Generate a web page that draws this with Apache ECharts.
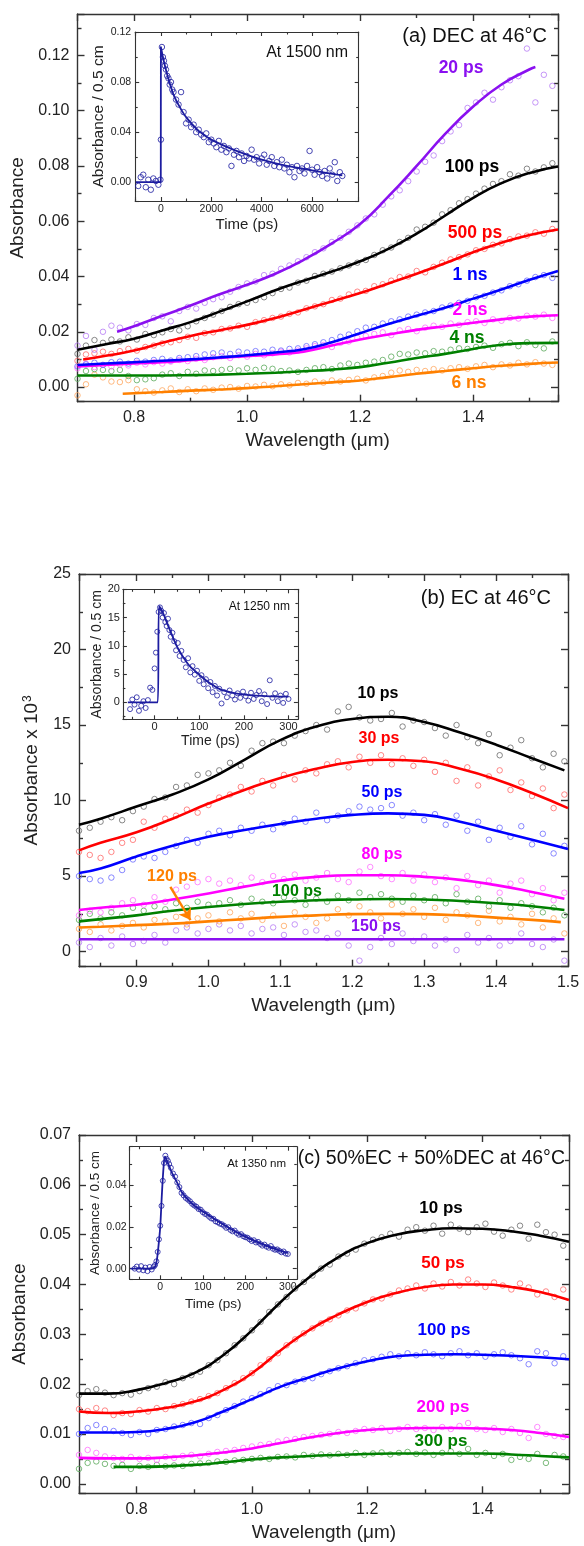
<!DOCTYPE html>
<html>
<head>
<meta charset="utf-8">
<title>Transient absorption spectra</title>
<script src="https://cdn.jsdelivr.net/npm/echarts@6/dist/echarts.min.js"></script>
<style>
  html, body { margin: 0; padding: 0; background: #fff; }
  #main { width: 584px; height: 1546px; }
</style>
</head>
<body>
<div id="main"></div>
<script>
// ---------- data ----------
// wavelength grids (um) for the measured points
var wlA = [0.700,0.715,0.730,0.745,0.760,0.775,0.790,0.805,0.820,0.835,
  0.850,0.865,0.880,0.895,0.910,0.925,0.940,0.955,0.970,0.985,
  1.000,1.015,1.030,1.045,1.060,1.075,1.090,1.105,1.120,1.135,
  1.150,1.165,1.180,1.195,1.210,1.225,1.240,1.255,1.270,1.285,
  1.300,1.315,1.330,1.345,1.360,1.375,1.390,1.405,1.420,1.435,
  1.450,1.465,1.480,1.495,1.510,1.525,1.540];
var wlB = [0.820,0.835,0.850,0.865,0.880,0.895,0.910,0.925,0.940,0.955,
  0.970,0.985,1.000,1.015,1.030,1.045,1.060,1.075,1.090,1.105,
  1.120,1.135,1.150,1.165,1.180,1.195,1.210,1.225,1.240,1.255,
  1.270,1.285,1.300,1.315,1.330,1.345,1.360,1.375,1.390,1.405,
  1.420,1.435,1.450,1.465,1.480,1.495];

// (a) DEC at 46C - measured absorbance
var a20ps = [0.0150,0.0185,0.0135,0.0200,0.0222,0.0215,0.0205,0.0228,0.0225,0.0250,
  0.0256,0.0238,0.0275,0.0290,0.0284,0.0305,0.0318,0.0325,0.0345,0.0362,
  0.0375,0.0382,0.0405,0.0410,0.0428,0.0440,0.0455,0.0470,0.0488,0.0502,
  0.0525,0.0540,0.0562,0.0585,0.0610,0.0625,0.0660,0.0690,0.0712,0.0745,
  0.0780,0.0815,0.0838,0.0890,0.0925,0.0948,0.1010,0.1030,0.1065,0.1040,
  0.1085,0.1110,0.1125,0.1225,0.1030,0.1130,0.1090];
var a100ps = [0.0120,0.0150,0.0170,0.0160,0.0172,0.0165,0.0180,0.0172,0.0192,0.0188,
  0.0198,0.0210,0.0205,0.0220,0.0238,0.0250,0.0262,0.0275,0.0290,0.0300,
  0.0305,0.0315,0.0325,0.0340,0.0355,0.0360,0.0378,0.0385,0.0402,0.0410,
  0.0418,0.0430,0.0440,0.0450,0.0460,0.0478,0.0495,0.0505,0.0525,0.0540,
  0.0570,0.0580,0.0595,0.0625,0.0640,0.0665,0.0680,0.0700,0.0718,0.0735,
  0.0745,0.0770,0.0765,0.0790,0.0780,0.0795,0.0810];
var a500ps = [0.0095,0.0118,0.0122,0.0128,0.0120,0.0130,0.0138,0.0132,0.0145,0.0150,
  0.0158,0.0162,0.0170,0.0182,0.0178,0.0195,0.0198,0.0210,0.0212,0.0222,
  0.0218,0.0235,0.0242,0.0250,0.0255,0.0265,0.0270,0.0285,0.0292,0.0300,
  0.0315,0.0320,0.0335,0.0345,0.0348,0.0365,0.0372,0.0385,0.0398,0.0400,
  0.0420,0.0415,0.0435,0.0450,0.0462,0.0470,0.0480,0.0495,0.0500,0.0515,
  0.0520,0.0535,0.0545,0.0548,0.0560,0.0555,0.0572];
var a1ns = [0.0075,0.0082,0.0088,0.0080,0.0090,0.0092,0.0085,0.0095,0.0092,0.0098,
  0.0102,0.0096,0.0105,0.0108,0.0112,0.0118,0.0122,0.0125,0.0120,0.0128,
  0.0125,0.0130,0.0128,0.0135,0.0132,0.0138,0.0140,0.0148,0.0155,0.0162,
  0.0170,0.0182,0.0190,0.0202,0.0215,0.0218,0.0230,0.0238,0.0245,0.0255,
  0.0262,0.0270,0.0275,0.0288,0.0295,0.0305,0.0312,0.0325,0.0330,0.0342,
  0.0350,0.0365,0.0372,0.0385,0.0398,0.0405,0.0395];
var a2ns = [0.0068,0.0085,0.0072,0.0080,0.0075,0.0082,0.0078,0.0088,0.0082,0.0090,
  0.0085,0.0092,0.0098,0.0094,0.0102,0.0098,0.0108,0.0112,0.0105,0.0115,
  0.0110,0.0120,0.0115,0.0122,0.0128,0.0125,0.0132,0.0140,0.0148,0.0152,
  0.0145,0.0160,0.0165,0.0178,0.0185,0.0192,0.0198,0.0188,0.0205,0.0210,
  0.0202,0.0215,0.0222,0.0218,0.0230,0.0225,0.0235,0.0238,0.0232,0.0245,
  0.0240,0.0250,0.0248,0.0258,0.0255,0.0262,0.0250];
var a4ns = [0.0030,0.0058,0.0065,0.0062,0.0058,0.0062,0.0040,0.0025,0.0028,0.0032,
  0.0045,0.0050,0.0040,0.0055,0.0048,0.0060,0.0058,0.0062,0.0066,0.0060,
  0.0068,0.0062,0.0070,0.0066,0.0058,0.0060,0.0055,0.0062,0.0068,0.0072,
  0.0065,0.0078,0.0085,0.0080,0.0088,0.0092,0.0098,0.0110,0.0120,0.0118,
  0.0125,0.0122,0.0130,0.0128,0.0135,0.0140,0.0138,0.0145,0.0150,0.0142,
  0.0155,0.0160,0.0148,0.0162,0.0152,0.0140,0.0165];
var a6ns = [-0.0030,0.0010,0.0045,0.0035,0.0020,0.0018,0.0025,-0.0008,-0.0015,-0.0020,
  -0.0012,-0.0005,-0.0018,-0.0008,-0.0015,-0.0005,-0.0010,-0.0002,0.0000,-0.0006,
  0.0004,0.0002,0.0008,0.0003,0.0010,0.0006,0.0015,0.0012,0.0020,0.0016,
  0.0024,0.0020,0.0026,0.0030,0.0024,0.0035,0.0040,0.0052,0.0060,0.0055,
  0.0062,0.0058,0.0065,0.0060,0.0068,0.0072,0.0066,0.0075,0.0080,0.0072,
  0.0082,0.0078,0.0088,0.0082,0.0090,0.0085,0.0080];

// (a) fitted curves [wavelength, absorbance]
var fitA20ps = [[0.77,0.0200],[0.80,0.0220],[0.85,0.0258],[0.90,0.0295],[0.95,0.0335],[1.00,0.0370],[1.05,0.0410],[1.10,0.0460],[1.15,0.0520],[1.20,0.0590],[1.25,0.0690],[1.30,0.0800],[1.35,0.0915],[1.40,0.1015],[1.45,0.1095],[1.50,0.1150],[1.51,0.1158]];
var fitA100ps = [[0.70,0.0135],[0.75,0.0155],[0.80,0.0175],[0.85,0.0205],[0.90,0.0235],[0.95,0.0272],[1.00,0.0310],[1.05,0.0350],[1.10,0.0385],[1.15,0.0418],[1.20,0.0455],[1.25,0.0500],[1.30,0.0555],[1.35,0.0620],[1.40,0.0685],[1.45,0.0738],[1.50,0.0775],[1.55,0.0798]];
var fitA500ps = [[0.71,0.0100],[0.75,0.0113],[0.80,0.0132],[0.85,0.0160],[0.90,0.0185],[0.95,0.0205],[1.00,0.0225],[1.05,0.0250],[1.10,0.0280],[1.15,0.0310],[1.20,0.0340],[1.25,0.0375],[1.30,0.0410],[1.35,0.0448],[1.40,0.0488],[1.45,0.0522],[1.50,0.0550],[1.55,0.0570]];
var fitA1ns = [[0.70,0.0080],[0.75,0.0085],[0.80,0.0090],[0.85,0.0095],[0.90,0.0100],[0.95,0.0107],[1.00,0.0115],[1.05,0.0125],[1.10,0.0137],[1.15,0.0162],[1.20,0.0195],[1.25,0.0228],[1.30,0.0258],[1.35,0.0287],[1.40,0.0320],[1.45,0.0353],[1.50,0.0388],[1.55,0.0420]];
var fitA2ns = [[0.70,0.0075],[0.75,0.0080],[0.80,0.0085],[0.85,0.0090],[0.90,0.0097],[0.95,0.0105],[1.00,0.0112],[1.05,0.0118],[1.10,0.0128],[1.15,0.0150],[1.20,0.0172],[1.25,0.0190],[1.30,0.0207],[1.35,0.0220],[1.40,0.0233],[1.45,0.0245],[1.50,0.0255],[1.55,0.0260]];
var fitA4ns = [[0.70,0.0042],[0.75,0.0042],[0.80,0.0042],[0.85,0.0042],[0.90,0.0043],[0.95,0.0045],[1.00,0.0048],[1.05,0.0052],[1.10,0.0057],[1.15,0.0063],[1.20,0.0072],[1.25,0.0088],[1.30,0.0105],[1.35,0.0120],[1.40,0.0138],[1.45,0.0153],[1.50,0.0159],[1.55,0.0160]];
var fitA6ns = [[0.78,-0.0024],[0.85,-0.0018],[0.90,-0.0013],[0.95,-0.0009],[1.00,-0.0004],[1.05,0.0003],[1.10,0.0010],[1.15,0.0017],[1.20,0.0024],[1.25,0.0036],[1.30,0.0048],[1.35,0.0058],[1.40,0.0068],[1.45,0.0077],[1.50,0.0084],[1.55,0.0089]];

// (b) EC at 46C - absorbance x 10^3
var b10ps = [8.0,8.2,8.6,8.9,8.7,9.3,9.6,10.1,10.2,10.9,
  11.0,11.7,11.8,12.0,12.5,12.3,13.3,13.8,13.9,13.8,
  14.3,14.6,15.0,14.7,15.9,16.2,15.5,15.3,15.4,15.8,
  14.9,15.3,15.2,14.8,14.3,15.0,14.2,13.8,14.4,13.0,
  13.5,14.0,12.8,12.2,13.1,12.6];
var b30ps = [6.6,6.4,6.2,6.6,7.2,7.4,8.6,8.2,8.8,9.0,
  9.4,9.2,9.7,10.2,10.4,10.9,10.6,11.3,11.0,11.7,
  11.4,12.0,11.8,12.4,12.6,12.2,12.9,12.5,13.0,12.4,
  12.8,12.3,12.7,11.9,12.5,11.3,12.2,11.0,11.6,12.0,
  10.7,11.2,10.3,10.8,9.5,10.4];
var b50ps = [5.0,4.8,4.7,4.9,5.4,6.1,6.3,6.2,6.6,7.0,
  7.4,7.2,7.8,8.0,7.7,8.2,8.0,8.4,8.1,8.5,
  8.8,8.6,9.2,8.7,9.0,9.3,9.6,9.4,9.5,9.7,
  9.0,9.2,8.7,9.1,8.4,9.0,8.0,8.6,7.4,8.2,
  7.6,8.3,7.1,7.8,6.5,7.0];
var b80ps = [2.4,2.7,2.6,2.9,3.2,3.4,3.1,3.6,3.3,4.1,
  4.3,4.6,4.8,4.5,4.7,4.4,4.9,4.6,5.0,4.8,
  5.1,4.7,4.9,5.2,4.8,4.6,5.3,5.6,5.0,4.8,
  5.2,4.7,5.1,4.6,4.9,4.2,5.0,4.4,4.7,3.9,
  4.5,4.7,3.8,4.2,3.4,3.9];
var b100ps = [2.1,2.5,2.2,2.6,2.4,2.9,2.7,3.0,2.8,3.2,
  2.9,3.3,3.1,3.2,3.4,3.1,3.5,3.3,3.2,3.6,
  3.4,3.1,3.5,3.3,3.7,3.4,3.9,3.6,3.8,3.5,
  3.3,3.7,3.4,3.6,3.2,3.8,3.3,3.5,3.0,3.4,
  2.9,3.2,3.0,2.6,2.9,2.4];
var b120ps = [1.5,1.3,1.8,1.4,1.7,1.9,1.6,2.1,2.0,2.3,
  1.8,2.2,2.4,2.0,2.6,2.2,2.5,2.1,2.4,1.7,
  2.6,2.3,1.9,2.2,2.8,2.4,3.0,2.6,2.2,3.1,
  2.5,2.8,2.3,2.9,2.1,2.6,2.4,1.9,2.7,2.0,
  2.3,1.8,2.5,1.6,2.2,1.2];
var b150ps = [0.6,0.3,0.9,0.4,1.0,0.5,0.7,1.1,0.6,1.4,
  1.6,1.2,1.5,1.8,1.4,1.7,1.2,1.5,1.6,1.1,
  1.8,1.3,1.4,0.9,1.2,0.4,-0.6,0.3,0.9,0.5,
  1.2,0.7,1.0,0.4,0.8,0.1,1.1,0.6,0.9,0.4,
  0.7,1.2,0.5,0.3,0.8,-0.6];

var fitB10ps = [[0.82,8.4],[0.85,8.8],[0.90,9.6],[0.95,10.4],[1.00,11.4],[1.05,12.7],[1.10,14.0],[1.15,14.9],[1.20,15.4],[1.25,15.55],[1.30,15.2],[1.35,14.5],[1.40,13.7],[1.45,12.8],[1.495,12.0]];
var fitB30ps = [[0.82,6.7],[0.85,7.2],[0.90,7.9],[0.95,8.8],[1.00,9.8],[1.05,10.7],[1.10,11.5],[1.15,12.1],[1.20,12.55],[1.25,12.7],[1.30,12.6],[1.35,12.1],[1.40,11.4],[1.45,10.5],[1.50,9.5]];
var fitB50ps = [[0.82,5.2],[0.85,5.5],[0.90,6.3],[0.95,7.0],[1.00,7.6],[1.05,8.05],[1.10,8.45],[1.15,8.8],[1.20,9.05],[1.25,9.15],[1.30,9.05],[1.35,8.6],[1.40,8.0],[1.45,7.4],[1.50,6.8]];
var fitB80ps = [[0.82,2.75],[0.85,2.9],[0.90,3.1],[0.95,3.45],[1.00,3.85],[1.05,4.3],[1.10,4.7],[1.15,4.95],[1.20,5.05],[1.25,5.05],[1.30,4.95],[1.35,4.75],[1.40,4.4],[1.45,3.95],[1.495,3.5]];
var fitB100ps = [[0.82,2.0],[0.85,2.15],[0.90,2.4],[0.95,2.7],[1.00,2.95],[1.05,3.15],[1.10,3.3],[1.15,3.4],[1.20,3.45],[1.25,3.48],[1.30,3.45],[1.35,3.35],[1.40,3.2],[1.45,3.0],[1.495,2.75]];
var fitB120ps = [[0.82,1.6],[0.85,1.65],[0.90,1.75],[0.95,1.85],[1.00,2.0],[1.05,2.15],[1.10,2.3],[1.15,2.4],[1.20,2.48],[1.25,2.5],[1.30,2.48],[1.35,2.4],[1.40,2.25],[1.45,2.1],[1.49,1.95]];
var fitB150ps = [[0.82,0.82],[1.495,0.82]];
// arrow pointing at the 120 ps curve (data coords)
var arrow120 = [[0.947,4.29],[0.975,2.09]];

// (c) 50%EC + 50%DEC at 46C
var c10ps = [0.0178,0.0186,0.0190,0.0183,0.0178,0.0182,0.0179,0.0186,0.0192,0.0195,
  0.0204,0.0200,0.0212,0.0218,0.0225,0.0238,0.0248,0.0262,0.0278,0.0292,
  0.0308,0.0325,0.0345,0.0360,0.0375,0.0392,0.0405,0.0418,0.0432,0.0440,
  0.0456,0.0462,0.0470,0.0482,0.0490,0.0495,0.0502,0.0496,0.0510,0.0515,
  0.0508,0.0518,0.0502,0.0520,0.0512,0.0505,0.0515,0.0522,0.0506,0.0498,
  0.0510,0.0518,0.0492,0.0520,0.0505,0.0500,0.0478];
var c50ps = [0.0150,0.0146,0.0152,0.0147,0.0138,0.0142,0.0140,0.0148,0.0145,0.0152,
  0.0150,0.0156,0.0160,0.0165,0.0170,0.0176,0.0182,0.0192,0.0202,0.0212,
  0.0222,0.0238,0.0250,0.0262,0.0278,0.0290,0.0302,0.0312,0.0322,0.0330,
  0.0338,0.0348,0.0352,0.0362,0.0370,0.0372,0.0380,0.0388,0.0392,0.0398,
  0.0392,0.0402,0.0396,0.0405,0.0398,0.0410,0.0402,0.0395,0.0404,0.0398,
  0.0390,0.0402,0.0394,0.0380,0.0386,0.0375,0.0390];
var c100ps = [0.0100,0.0112,0.0118,0.0110,0.0106,0.0102,0.0098,0.0104,0.0100,0.0108,
  0.0110,0.0115,0.0118,0.0122,0.0120,0.0132,0.0138,0.0148,0.0156,0.0165,
  0.0172,0.0180,0.0188,0.0196,0.0198,0.0205,0.0210,0.0212,0.0220,0.0226,
  0.0232,0.0236,0.0242,0.0248,0.0250,0.0255,0.0260,0.0256,0.0262,0.0258,
  0.0264,0.0260,0.0256,0.0262,0.0266,0.0258,0.0262,0.0255,0.0260,0.0264,
  0.0258,0.0252,0.0240,0.0266,0.0262,0.0242,0.0256];
var c200ps = [0.0058,0.0068,0.0062,0.0055,0.0052,0.0050,0.0054,0.0050,0.0052,0.0048,
  0.0054,0.0052,0.0056,0.0058,0.0055,0.0060,0.0064,0.0066,0.0068,0.0072,
  0.0075,0.0078,0.0080,0.0085,0.0088,0.0090,0.0094,0.0096,0.0098,0.0100,
  0.0104,0.0102,0.0106,0.0110,0.0108,0.0112,0.0106,0.0110,0.0114,0.0110,
  0.0112,0.0108,0.0114,0.0110,0.0116,0.0122,0.0110,0.0108,0.0112,0.0104,
  0.0110,0.0102,0.0092,0.0114,0.0100,0.0096,0.0094];
var c300ps = [0.0030,0.0042,0.0045,0.0040,0.0036,0.0038,0.0030,0.0036,0.0034,0.0038,
  0.0035,0.0037,0.0036,0.0040,0.0041,0.0042,0.0045,0.0044,0.0047,0.0048,
  0.0050,0.0052,0.0050,0.0054,0.0055,0.0053,0.0058,0.0056,0.0059,0.0057,
  0.0060,0.0058,0.0062,0.0058,0.0061,0.0063,0.0059,0.0062,0.0064,0.0060,
  0.0063,0.0058,0.0062,0.0065,0.0060,0.0070,0.0058,0.0062,0.0056,0.0060,
  0.0048,0.0054,0.0050,0.0060,0.0042,0.0058,0.0055];

var fitC10ps = [[0.70,0.0181],[0.75,0.0181],[0.80,0.0188],[0.85,0.0202],[0.90,0.0222],[0.95,0.0258],[1.00,0.0308],[1.05,0.0365],[1.10,0.0415],[1.15,0.0455],[1.20,0.0483],[1.25,0.0500],[1.30,0.0509],[1.35,0.0513],[1.40,0.0512],[1.45,0.0507],[1.50,0.0498],[1.55,0.0486]];
var fitC50ps = [[0.70,0.0145],[0.75,0.0142],[0.80,0.0145],[0.85,0.0152],[0.90,0.0165],[0.95,0.0188],[1.00,0.0222],[1.05,0.0268],[1.10,0.0309],[1.15,0.0340],[1.20,0.0365],[1.25,0.0383],[1.30,0.0395],[1.35,0.0400],[1.40,0.0400],[1.45,0.0395],[1.50,0.0385],[1.55,0.0369]];
var fitC100ps = [[0.70,0.0103],[0.75,0.0103],[0.80,0.0104],[0.85,0.0110],[0.90,0.0123],[0.95,0.0145],[1.00,0.0170],[1.05,0.0195],[1.10,0.0214],[1.15,0.0232],[1.20,0.0246],[1.25,0.0256],[1.30,0.0259],[1.35,0.0260],[1.40,0.0259],[1.45,0.0257],[1.50,0.0254],[1.55,0.0250]];
var fitC200ps = [[0.70,0.0052],[0.75,0.0051],[0.80,0.0051],[0.85,0.0053],[0.90,0.0057],[0.95,0.0063],[1.00,0.0071],[1.05,0.0082],[1.10,0.0093],[1.15,0.0102],[1.20,0.0108],[1.25,0.0111],[1.30,0.0112],[1.35,0.0112],[1.40,0.0111],[1.45,0.0108],[1.50,0.0102],[1.55,0.0094]];
var fitC300ps = [[0.76,0.0034],[0.80,0.0034],[0.85,0.0035],[0.90,0.0038],[0.95,0.0043],[1.00,0.0049],[1.05,0.0053],[1.10,0.0056],[1.15,0.0058],[1.20,0.0060],[1.25,0.0061],[1.30,0.0061],[1.35,0.0061],[1.40,0.0061],[1.45,0.0059],[1.50,0.0056],[1.55,0.0053]];

// insets: kinetics (time in ps)
var tA = [-900,-800,-700,-600,-500,-400,-300,-200,-100,-20,
  0,40,80,120,160,200,250,300,350,400,
  450,500,600,700,800,900,1000,1100,1200,1300,
  1400,1500,1600,1700,1800,1900,2000,2100,2200,2300,
  2400,2500,2600,2700,2800,2900,3000,3100,3200,3300,
  3400,3500,3600,3700,3800,3900,4000,4100,4200,4300,
  4400,4500,4600,4700,4800,4900,5000,5100,5200,5300,
  5400,5500,5600,5700,5800,5900,6000,6100,6200,6300,
  6400,6500,6600,6700,6800,6900,7000,7100,7200];
var kinA = [-0.003,0.004,0.006,-0.004,0.002,-0.006,0.003,0.001,-0.002,0.002,
  0.034,0.108,0.100,0.097,0.093,0.090,0.085,0.083,0.078,0.080,
  0.074,0.072,0.066,0.062,0.072,0.056,0.047,0.050,0.044,0.046,
  0.040,0.042,0.038,0.036,0.039,0.032,0.034,0.031,0.028,0.033,
  0.026,0.029,0.024,0.027,0.013,0.022,0.025,0.020,0.023,0.017,
  0.021,0.019,0.026,0.018,0.020,0.015,0.019,0.022,0.014,0.017,
  0.020,0.013,0.016,0.012,0.018,0.011,0.014,0.008,0.012,0.004,
  0.013,0.009,0.011,0.007,0.013,0.025,0.010,0.006,0.012,0.008,
  0.005,0.009,0.003,0.011,0.006,0.016,0.001,0.008,0.005];
var fitKinA = [[-1000,0],[-5,0],[0,0.108],[100,0.098],[250,0.086],[500,0.070],[750,0.060],[1000,0.052],[1500,0.041],[2000,0.034],[3000,0.025],[4000,0.018],[5000,0.013],[6000,0.0095],[7000,0.006],[7200,0.0055]];

var tB = [-55,-50,-45,-40,-35,-30,-25,-20,-15,-10,
  -5,0,3,6,9,12,15,18,21,24,
  27,30,33,36,40,44,48,52,56,60,
  65,70,75,80,85,90,95,100,105,110,
  115,120,125,130,135,140,145,150,156,162,
  168,174,180,186,192,198,204,210,216,222,
  228,234,240,246,252,258,264,270,276,282,
  288,294,300];
var kinB = [-1.2,0.5,-0.4,0.9,-1.5,-0.6,0.2,-1.0,0.4,2.6,
  2.2,6.0,8.8,12.5,16.0,16.8,16.2,15.0,15.8,14.2,
  13.5,14.8,12.8,11.6,12.3,10.8,9.2,10.5,8.2,9.1,
  7.5,6.2,7.8,5.3,6.4,4.9,5.6,3.8,4.8,3.2,
  4.1,2.5,3.6,1.8,2.9,1.2,2.4,-0.2,1.8,0.9,
  2.1,1.2,0.5,1.6,0.8,1.9,1.1,0.3,1.7,0.6,
  1.3,2.0,0.2,1.4,-0.3,3.9,0.8,1.6,0.2,1.2,
  -0.1,1.5,0.6];
var fitKinB = [[-60,0],[7,0],[10,17],[20,15.6],[30,13.6],[40,11.7],[50,9.9],[60,8.5],[70,7.3],[80,6.3],[100,4.9],[120,3.6],[150,2.2],[200,1.35],[250,1.1],[300,1.0]];

var tC = [-60,-55,-50,-45,-40,-35,-30,-25,-20,-15,
  -12,-9,-6,-3,0,3,6,9,12,15,
  18,21,25,30,35,40,45,50,55,60,
  65,70,75,80,85,90,95,100,105,110,
  115,120,125,130,135,140,145,150,155,160,
  165,170,175,180,185,190,195,200,205,210,
  215,220,225,230,235,240,245,250,255,260,
  265,270,275,280,285,290,295,300];
var kinC = [0.0000,0.0010,-0.0005,0.0012,-0.0008,0.0005,-0.0012,0.0008,-0.0004,0.0010,
  0.0018,0.0035,0.0080,0.0140,0.0205,0.0300,0.0420,0.0505,0.0540,0.0525,
  0.0515,0.0500,0.0482,0.0455,0.0440,0.0412,0.0390,0.0362,0.0350,0.0338,
  0.0330,0.0322,0.0310,0.0302,0.0296,0.0285,0.0282,0.0270,0.0262,0.0258,
  0.0248,0.0240,0.0238,0.0226,0.0222,0.0215,0.0212,0.0205,0.0195,0.0198,
  0.0185,0.0178,0.0182,0.0170,0.0162,0.0165,0.0155,0.0150,0.0148,0.0140,
  0.0132,0.0136,0.0125,0.0128,0.0118,0.0110,0.0115,0.0105,0.0100,0.0108,
  0.0095,0.0090,0.0092,0.0085,0.0078,0.0082,0.0072,0.0070];
var fitKinC = [[-70,0],[-20,0],[-12,0.001],[-8,0.004],[-4,0.011],[0,0.020],[4,0.036],[8,0.049],[11,0.0535],[15,0.052],[25,0.047],[30,0.0448],[40,0.0410],[50,0.0368],[60,0.0342],[75,0.0310],[100,0.0273],[150,0.0209],[200,0.0153],[250,0.0109],[300,0.0074]];

// ---------- drawing ----------
var FONT = "'Liberation Sans', Arial, sans-serif";
var AX = '#333';

var COL = {
  purple: ['#8a10f0', '#b77cf5'],
  black: ['#000000', '#6a6a6a'],
  red: ['#ff0000', '#ff6a6a'],
  blue: ['#0000ff', '#6a6aff'],
  magenta: ['#ff00ff', '#ff70ff'],
  green: ['#008000', '#5baa5b'],
  orange: ['#ff8000', '#ffa860'],
  navy: ['#1c1ca0', '#1c1ca0']
};

var grids = [
  { left: 77.5, top: 14, width: 480.5, height: 387.7 },
  { left: 135.2, top: 32, width: 223.5, height: 169, show: true, backgroundColor: '#fff', borderWidth: 0 },
  { left: 79, top: 574, width: 489, height: 392.7 },
  { left: 122.9, top: 589.3, width: 175, height: 130, show: true, backgroundColor: '#fff', borderWidth: 0 },
  { left: 79, top: 1135, width: 490, height: 358.3 },
  { left: 129.6, top: 1146.7, width: 167.2, height: 132.6, show: true, backgroundColor: '#fff', borderWidth: 0 }
];

var xAxes = [], yAxes = [];

function fmt(step, dec) {
  return function(v) {
    var r = v / step;
    if (Math.abs(r - Math.round(r)) > 1e-6) return '';
    return v.toFixed(dec);
  };
}

function addAxis(list, g, o, isX) {
  var base = {
    type: 'value', gridIndex: g, min: o.min, max: o.max,
    minInterval: o.step, maxInterval: o.step,
    splitNumber: Math.round((o.max - o.min) / o.step),
    splitLine: { show: false },
    axisLine: { show: true, onZero: false, lineStyle: { color: AX, width: o.lw } },
    axisTick: { show: true, inside: true, length: o.tick, lineStyle: { color: AX, width: o.lw } },
    minorTick: { show: true, splitNumber: 2, length: o.minor, lineStyle: { color: AX, width: o.lw } },
    minorSplitLine: { show: false },
    silent: true
  };
  var main = Object.assign({}, base, {
    position: isX ? 'bottom' : 'left',
    axisLabel: {
      show: true, color: '#222', fontSize: o.font, fontFamily: FONT, margin: o.margin,
      showMinLabel: true, showMaxLabel: true, formatter: fmt(o.step, o.dec)
    },
    name: o.name, nameLocation: 'middle', nameGap: o.nameGap,
    nameTextStyle: { color: '#222', fontSize: o.nameSize, fontFamily: FONT, rich: o.rich }
  });
  var mirror = Object.assign({}, base, {
    position: isX ? 'top' : 'right',
    axisLabel: { show: false }
  });
  list.push(main, mirror);
}

// main panel axes
var mainX = { lw: 1.4, tick: 7, minor: 4, font: 16, margin: 8, nameSize: 19, nameGap: 30, dec: 1, name: 'Wavelength (\u03bcm)' };
var insetBase = { lw: 1.1, tick: 4, minor: 2.5 };

addAxis(xAxes, 0, Object.assign({}, mainX, { min: 0.70, max: 1.55, step: 0.2 }), true);
addAxis(yAxes, 0, { lw: 1.4, tick: 7, minor: 4, font: 16, margin: 8, nameSize: 19, nameGap: 47, min: -0.0053, max: 0.135, step: 0.02, dec: 2, name: 'Absorbance' }, false);

addAxis(xAxes, 1, Object.assign({}, insetBase, { min: -1020, max: 7850, step: 2000, dec: 0, font: 10.5, margin: 3, nameSize: 15, nameGap: 16, name: 'Time (ps)' }), true);
addAxis(yAxes, 1, Object.assign({}, insetBase, { min: -0.015, max: 0.12, step: 0.04, dec: 2, font: 10.5, margin: 4, nameSize: 15.5, nameGap: 27, name: 'Absorbance / 0.5 cm' }), false);

addAxis(xAxes, 2, Object.assign({}, mainX, { min: 0.82, max: 1.5, step: 0.1 }), true);
addAxis(yAxes, 2, { lw: 1.4, tick: 7, minor: 4, font: 16, margin: 8, nameSize: 19, nameGap: 37, min: -1, max: 25, step: 5, dec: 0,
  name: 'Absorbance x 10{sup|3}', rich: { sup: { fontSize: 12, fontFamily: FONT, color: '#222', verticalAlign: 'top', padding: [0, 0, 8, 1] } } }, false);

addAxis(xAxes, 3, Object.assign({}, insetBase, { min: -71, max: 321, step: 100, dec: 0, font: 11, margin: 2.5, nameSize: 14, nameGap: 15, name: 'Time (ps)' }), true);
addAxis(yAxes, 3, Object.assign({}, insetBase, { min: -3, max: 20, step: 5, dec: 0, font: 11, margin: 3, nameSize: 14, nameGap: 17, name: 'Absorbance / 0.5 cm' }), false);

addAxis(xAxes, 4, Object.assign({}, mainX, { min: 0.70, max: 1.55, step: 0.2 }), true);
addAxis(yAxes, 4, { lw: 1.4, tick: 7, minor: 4, font: 16, margin: 8, nameSize: 19, nameGap: 44, min: -0.0019, max: 0.07, step: 0.01, dec: 2, name: 'Absorbance' }, false);

addAxis(xAxes, 5, Object.assign({}, insetBase, { min: -72, max: 321, step: 100, dec: 0, font: 10.5, margin: 2.5, nameSize: 13.5, nameGap: 18, name: 'Time (ps)' }), true);
addAxis(yAxes, 5, Object.assign({}, insetBase, { min: -0.0051, max: 0.0583, step: 0.02, dec: 2, font: 10.5, margin: 3, nameSize: 13.5, nameGap: 23, name: 'Absorbance / 0.5 cm' }), false);

function pairs(xs, ys) {
  return xs.map(function(x, i) { return [x, ys[i]]; });
}

var series = [];

function addScatter(g, xs, ys, col, size) {
  series.push({
    type: 'scatter', xAxisIndex: 2 * g, yAxisIndex: 2 * g, silent: true, z: 2,
    symbol: 'circle', symbolSize: size || 5.5,
    itemStyle: { color: 'rgba(255,255,255,0)', borderColor: col[1], borderWidth: 1 },
    data: pairs(xs, ys)
  });
}

function addFit(g, data, col, width, extra) {
  var s = {
    type: 'line', xAxisIndex: 2 * g, yAxisIndex: 2 * g, silent: true, z: 3,
    smooth: true, showSymbol: false, symbol: 'none',
    lineStyle: { color: col[0], width: width || 2.6 },
    data: data
  };
  series.push(Object.assign(s, extra || {}));
}

// panel a
addScatter(0, wlA, a6ns, COL.orange);
addScatter(0, wlA, a4ns, COL.green);
addScatter(0, wlA, a2ns, COL.magenta);
addScatter(0, wlA, a1ns, COL.blue);
addScatter(0, wlA, a500ps, COL.red);
addScatter(0, wlA, a100ps, COL.black);
addScatter(0, wlA, a20ps, COL.purple);
addFit(0, fitA6ns, COL.orange);
addFit(0, fitA4ns, COL.green);
addFit(0, fitA2ns, COL.magenta);
addFit(0, fitA1ns, COL.blue);
addFit(0, fitA500ps, COL.red);
addFit(0, fitA100ps, COL.black);
addFit(0, fitA20ps, COL.purple);

// panel b
addScatter(2, wlB, b150ps, COL.purple);
addScatter(2, wlB, b120ps, COL.orange);
addScatter(2, wlB, b100ps, COL.green);
addScatter(2, wlB, b80ps, COL.magenta);
addScatter(2, wlB, b50ps, COL.blue);
addScatter(2, wlB, b30ps, COL.red);
addScatter(2, wlB, b10ps, COL.black);
addFit(2, fitB150ps, COL.purple);
addFit(2, fitB120ps, COL.orange, 2.6, {
  markLine: {
    silent: true, symbol: ['none', 'arrow'], symbolSize: 11, animation: false,
    lineStyle: { color: COL.orange[0], width: 2.4, type: 'solid' },
    label: { show: false },
    data: [[{ coord: arrow120[0] }, { coord: arrow120[1] }]]
  }
});
addFit(2, fitB100ps, COL.green);
addFit(2, fitB80ps, COL.magenta);
addFit(2, fitB50ps, COL.blue);
addFit(2, fitB30ps, COL.red);
addFit(2, fitB10ps, COL.black);

// panel c
addScatter(4, wlA, c300ps, COL.green);
addScatter(4, wlA, c200ps, COL.magenta);
addScatter(4, wlA, c100ps, COL.blue);
addScatter(4, wlA, c50ps, COL.red);
addScatter(4, wlA, c10ps, COL.black);
addFit(4, fitC300ps, COL.green);
addFit(4, fitC200ps, COL.magenta);
addFit(4, fitC100ps, COL.blue);
addFit(4, fitC50ps, COL.red);
addFit(4, fitC10ps, COL.black);

// insets
addScatter(1, tA, kinA, COL.navy, 5.5);
addFit(1, fitKinA, COL.navy, 1.8, { smooth: 0.3 });
addScatter(3, tB, kinB, COL.navy, 5);
addFit(3, fitKinB, COL.navy, 1.8, { smooth: 0.3 });
addScatter(5, tC, kinC, COL.navy, 5);
addFit(5, fitKinC, COL.navy, 1.8, { smooth: 0.3 });

// text labels
function txt(s, x, y, size, color, align, bold) {
  return {
    type: 'text', x: x, y: y, z: 100, silent: true,
    style: {
      text: s, fill: color, font: (bold ? 'bold ' : '') + size + 'px ' + FONT,
      align: align || 'center', verticalAlign: 'middle',
      textAlign: align || 'center', textVerticalAlign: 'middle'
    }
  };
}

var graphics = [
  txt('(a) DEC at 46\u00b0C', 547, 36, 20, '#111', 'right'),
  txt('At 1500 nm', 348, 53, 16, '#111', 'right'),
  txt('20 ps', 461, 68, 17.5, COL.purple[0], 'center', true),
  txt('100 ps', 472, 167, 17.5, COL.black[0], 'center', true),
  txt('500 ps', 475, 233, 17.5, COL.red[0], 'center', true),
  txt('1 ns', 470, 275, 17.5, COL.blue[0], 'center', true),
  txt('2 ns', 470, 310, 17.5, COL.magenta[0], 'center', true),
  txt('4 ns', 467, 338, 17.5, COL.green[0], 'center', true),
  txt('6 ns', 469, 383, 17.5, COL.orange[0], 'center', true),

  txt('(b) EC at 46\u00b0C', 551, 598, 20, '#111', 'right'),
  txt('At 1250 nm', 290, 607, 12, '#111', 'right'),
  txt('10 ps', 378, 694, 16, COL.black[0], 'center', true),
  txt('30 ps', 379, 739, 16, COL.red[0], 'center', true),
  txt('50 ps', 382, 793, 16, COL.blue[0], 'center', true),
  txt('80 ps', 382, 855, 16, COL.magenta[0], 'center', true),
  txt('100 ps', 297, 892, 16, COL.green[0], 'center', true),
  txt('120 ps', 172, 877, 16, COL.orange[0], 'center', true),
  txt('150 ps', 376, 927, 16, COL.purple[0], 'center', true),

  txt('(c) 50%EC + 50%DEC at 46\u00b0C', 565, 1159, 19.5, '#111', 'right'),
  txt('At 1350 nm', 286, 1164, 11.5, '#111', 'right'),
  txt('10 ps', 441, 1208, 17, COL.black[0], 'center', true),
  txt('50 ps', 443, 1263, 17, COL.red[0], 'center', true),
  txt('100 ps', 444, 1330, 17, COL.blue[0], 'center', true),
  txt('200 ps', 443, 1407, 17, COL.magenta[0], 'center', true),
  txt('300 ps', 441, 1441, 17, COL.green[0], 'center', true)
];

var chart = echarts.init(document.getElementById('main'), null, { renderer: 'canvas', width: 584, height: 1546 });
chart.setOption({
  animation: false,
  backgroundColor: '#fff',
  grid: grids,
  xAxis: xAxes,
  yAxis: yAxes,
  series: series,
  graphic: graphics
});
</script>
</body>
</html>
